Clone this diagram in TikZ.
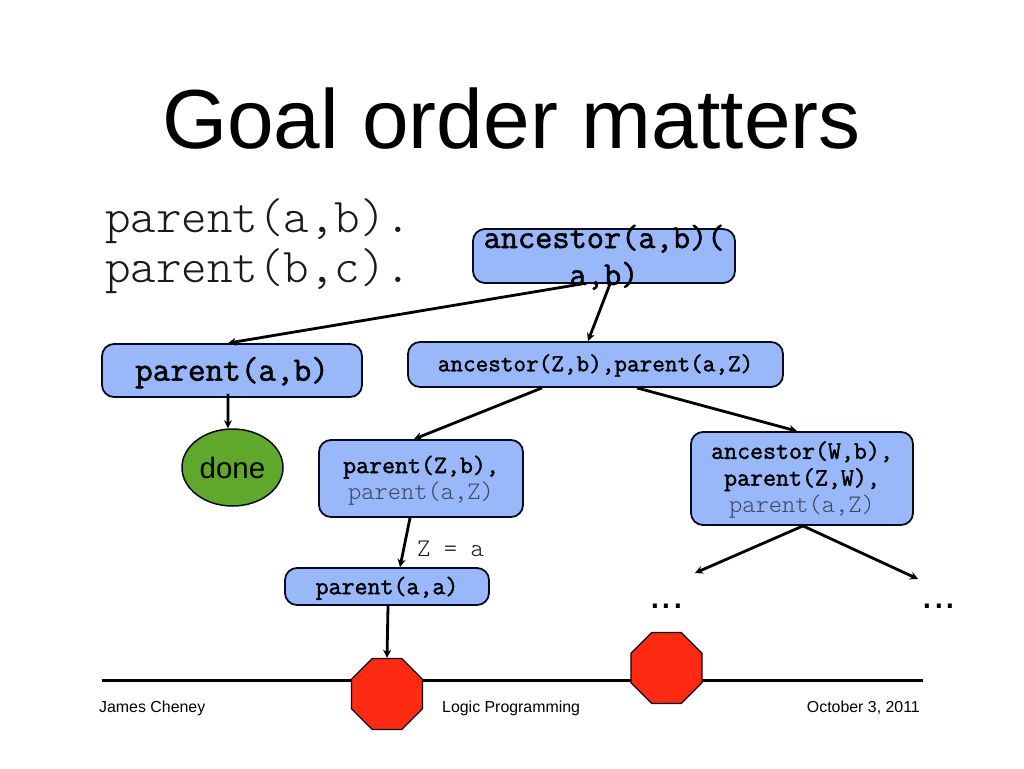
\documentclass[tikz,border=0pt]{standalone}
\usepackage{fontspec}
\setmainfont{Liberation Sans}
\setmonofont{Latin Modern Mono Light}[BoldFont={Latin Modern Mono},BoldFeatures={FakeBold=1.6}]
\usetikzlibrary{arrows.meta,shapes.geometric}
\definecolor{boxblue}{HTML}{99B8FA}
\definecolor{edgeink}{HTML}{0A0A1E}
\definecolor{donegreen}{HTML}{5FA82C}
\definecolor{stopred}{HTML}{FF2A12}
\definecolor{softink}{HTML}{3F4660}
\definecolor{plainink}{HTML}{1A1A1A}
\newcommand{\fs}[2]{\fontsize{#1pt}{#2pt}\selectfont}
\newcommand{\soft}[1]{\textcolor{softink}{\mdseries #1}}
\newcommand{\lift}[1]{\rule{0pt}{#1pt}}
\tikzset{
  x=1pt,y=-1pt,
  boxnode/.style={draw=edgeink,line width=1.8pt,fill=boxblue,rounded corners=12pt,inner sep=0pt,align=center,font=\ttfamily\bfseries},
  stopnode/.style={regular polygon,regular polygon sides=8,draw=edgeink,line width=1.2pt,fill=stopred,inner sep=0pt,minimum size=77pt},
  edgearrow/.style={draw=black,line width=2.8pt,-{Stealth[length=8pt,width=8pt]}},
  ruleline/.style={draw=black,line width=3pt},
  footer/.style={font=\fs{15.9}{18},text=black,anchor=base west,inner sep=0pt},
  codeline/.style={font=\ttfamily\fs{48.6}{50},text=plainink,anchor=base west,inner sep=0pt},
  dotsnode/.style={font=\fs{42}{50},text=black,anchor=base,inner sep=0pt}
}
\begin{document}
\begin{tikzpicture}
\useasboundingbox (0,0) rectangle (1024,768);
\fill[white] (0,0) rectangle (1024,768);
\node[font=\fs{83.8}{100},text=black,anchor=base,inner sep=0pt] (title) at (511.5,148) {Goal order matters};
\node[codeline] (fact1) at (105,232) {parent(a,b).};
\node[codeline] (fact2) at (105,282) {parent(b,c).};
% footer rule
\coordinate (ruleA) at (102,680);
\coordinate (ruleB) at (923,680);
\draw[ruleline] (ruleA) -- (ruleB);
\node[footer] (foot1) at (99,712) {James Cheney};
\node[footer] (foot2) at (442,712) {Logic Programming};
\node[footer,anchor=base east] (foot3) at (920,712) {October 3, 2011};
% nodes
\node[boxnode,minimum width=262pt,minimum height=54pt] (top) at (604,256) {};
\node[boxnode,minimum width=260pt,minimum height=53pt,font=\ttfamily\bfseries\fs{34.2}{35}] (pab) at (232,370.5) {\lift{28}parent(a,b)};
\node[boxnode,minimum width=375pt,minimum height=45pt,font=\ttfamily\bfseries\fs{24.5}{26}] (anz) at (595.5,364.5) {\lift{19}ancestor(Z,b),parent(a,Z)};
\node[ellipse,draw=edgeink,line width=1.5pt,fill=donegreen,minimum width=101pt,minimum height=77pt,inner sep=0pt,font=\fs{29.5}{34},text=black] (done) at (232.5,467.5) {done};
\node[boxnode,minimum width=204pt,minimum height=77pt,font=\ttfamily\bfseries\fs{25.2}{26}] (pzb) at (421,478.5) {\lift{21}parent(Z,b),\\\soft{parent(a,Z)}};
\node[boxnode,minimum width=222pt,minimum height=93pt,font=\ttfamily\bfseries\fs{25.2}{26.8}] (anw) at (802,478.5) {\lift{20}ancestor(W,b),\\parent(Z,W),\\\soft{parent(a,Z)}};
\node[boxnode,minimum width=204pt,minimum height=37pt,font=\ttfamily\bfseries\fs{25.2}{26}] (paa) at (387,586.5) {\lift{21}parent(a,a)};
\node[stopnode] (stop1) at (387,694) {};
\node[stopnode] (stop2) at (666.5,668) {};
\node[font=\ttfamily\fs{25.4}{26},text=plainink,anchor=base west,inner sep=0pt] (zeq) at (417,556) {Z = a};
\node[dotsnode] (dots1) at (666.5,608) {...};
\node[dotsnode] (dots2) at (939,608) {...};
\coordinate (freeL) at (695,573);
\coordinate (freeR) at (918,579);
% connectors
\draw[edgearrow] ([xshift=-22pt]top.south) -- ([xshift=-4pt]pab.north);
\draw[edgearrow] ([xshift=6pt]top.south) -- ([xshift=-7.5pt]anz.north);
\draw[edgearrow] ([xshift=-3.9pt,yshift=4pt]pab.south) -- ([xshift=-4.6pt]done.north);
\draw[edgearrow] ([xshift=-53.5pt]anz.south) -- ([xshift=-7pt]pzb.north);
\draw[edgearrow] ([xshift=41.5pt]anz.south) -- ([xshift=-5pt]anw.north);
\draw[edgearrow] ([xshift=-11pt]pzb.south) -- ([xshift=13pt]paa.north);
\draw[edgearrow] ([xshift=1pt]paa.south) -- (stop1.north);
\draw[edgearrow] ([xshift=1pt]anw.south) -- (freeL);
\draw[edgearrow] ([xshift=1pt]anw.south) -- (freeR);
% label drawn last: it overflows the box and the arrows pass beneath it
\node[font=\ttfamily\bfseries\fs{33.4}{37},align=center,text=black,inner sep=0pt,anchor=base] (toplabel) at (604,285) {ancestor(a,b)(\\a,b)};
\end{tikzpicture}
\end{document}
